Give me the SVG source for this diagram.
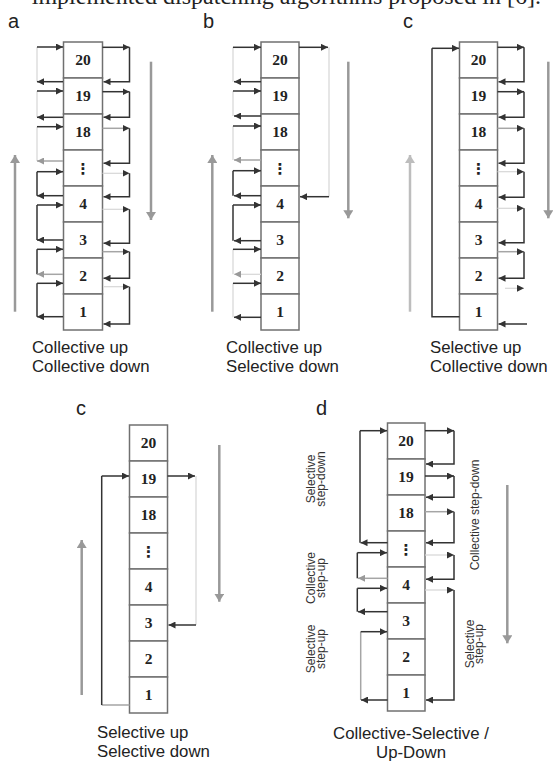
<svg xmlns="http://www.w3.org/2000/svg" width="554" height="765" viewBox="0 0 554 765">
  <defs>
    <marker id="ahk" viewBox="0 0 8 8" refX="8" refY="4" markerWidth="7" markerHeight="7" orient="auto" markerUnits="userSpaceOnUse">
      <path d="M0,0 L8,4 L0,8 z" fill="#333"/>
    </marker>
    <marker id="ahg" viewBox="0 0 8 8" refX="8" refY="4" markerWidth="7" markerHeight="7" orient="auto" markerUnits="userSpaceOnUse">
      <path d="M0,0 L8,4 L0,8 z" fill="#999"/>
    </marker>
    <marker id="big" viewBox="0 0 8 10" refX="8" refY="5" markerWidth="8" markerHeight="10" orient="auto" markerUnits="userSpaceOnUse">
      <path d="M0,0 L8,5 L0,10 z" fill="#999"/>
    </marker>
    <marker id="bigl" viewBox="0 0 8 10" refX="8" refY="5" markerWidth="8" markerHeight="10" orient="auto" markerUnits="userSpaceOnUse">
      <path d="M0,0 L8,5 L0,10 z" fill="#bdbdbd"/>
    </marker>
  </defs>
  <style>
    .cell { fill: #fff; stroke: #707070; stroke-width: 1.5; }
    .num { font-family: "Liberation Serif", "Times New Roman", serif; font-weight: bold; font-size: 15.5px; fill: #222; text-anchor: middle; }
    .dots { font-family: "DejaVu Sans", sans-serif; font-weight: bold; font-size: 15px; fill: #222; text-anchor: middle; }
    .cap { font-family: "Liberation Sans", Arial, sans-serif; font-size: 16.8px; fill: #222; }
    .tag { font-family: "Liberation Sans", Arial, sans-serif; font-size: 20px; fill: #222; }
    .rot { font-family: "Liberation Sans", Arial, sans-serif; font-size: 12px; fill: #333; text-anchor: middle; }
    .top { font-family: "Liberation Serif", "Times New Roman", serif; font-size: 24px; fill: #222; text-anchor: end; }
    .k { stroke: #333; stroke-width: 1.5; fill: none; }
    .g { stroke: #a5a5a5; stroke-width: 1.5; fill: none; }
    .f { stroke: #d6d6d6; stroke-width: 1.2; fill: none; }
    .ak { marker-end: url(#ahk); }
    .ag { marker-end: url(#ahg); }
    .trend { stroke: #999; stroke-width: 2.5; fill: none; marker-end: url(#big); }
    .trendl { stroke: #bdbdbd; stroke-width: 2.5; fill: none; marker-end: url(#bigl); }
  </style>

  <rect width="554" height="765" fill="#fff"/>

  <!-- running text of the page, cut by the top edge -->
  <text class="top" x="541" y="4">implemented dispatching algorithms proposed in [6].</text>

  <!-- panel tags -->
  <text class="tag" x="8" y="28">a</text>
  <text class="tag" x="203" y="28">b</text>
  <text class="tag" x="403" y="28">c</text>
  <text class="tag" x="76" y="415">c</text>
  <text class="tag" x="316" y="415">d</text>

  <!-- ===== panel a ===== -->
  <g id="panel-a">
    <g id="a-f20"><rect class="cell" x="63.5" y="42" width="39" height="36"/><text class="num" x="83" y="65">20</text></g>
    <g id="a-f19"><rect class="cell" x="63.5" y="78" width="39" height="36"/><text class="num" x="83" y="101">19</text></g>
    <g id="a-f18"><rect class="cell" x="63.5" y="114" width="39" height="36"/><text class="num" x="83" y="137">18</text></g>
    <g id="a-fdots"><rect class="cell" x="63.5" y="150" width="39" height="36"/><text class="dots" x="83" y="174">⋮</text></g>
    <g id="a-f4"><rect class="cell" x="63.5" y="186" width="39" height="36"/><text class="num" x="83" y="209">4</text></g>
    <g id="a-f3"><rect class="cell" x="63.5" y="222" width="39" height="36"/><text class="num" x="83" y="245">3</text></g>
    <g id="a-f2"><rect class="cell" x="63.5" y="258" width="39" height="36"/><text class="num" x="83" y="281">2</text></g>
    <g id="a-f1"><rect class="cell" x="63.5" y="294" width="39" height="36"/><text class="num" x="83" y="317">1</text></g>
    <text class="cap" x="32" y="353">Collective up</text>
    <text class="cap" x="32" y="372">Collective down</text>
  </g>

  <!-- ===== panel b ===== -->
  <g id="panel-b">
    <g id="b-f20"><rect class="cell" x="261" y="42" width="38" height="36"/><text class="num" x="280" y="65">20</text></g>
    <g id="b-f19"><rect class="cell" x="261" y="78" width="38" height="36"/><text class="num" x="280" y="101">19</text></g>
    <g id="b-f18"><rect class="cell" x="261" y="114" width="38" height="36"/><text class="num" x="280" y="137">18</text></g>
    <g id="b-fdots"><rect class="cell" x="261" y="150" width="38" height="36"/><text class="dots" x="280" y="174">⋮</text></g>
    <g id="b-f4"><rect class="cell" x="261" y="186" width="38" height="36"/><text class="num" x="280" y="209">4</text></g>
    <g id="b-f3"><rect class="cell" x="261" y="222" width="38" height="36"/><text class="num" x="280" y="245">3</text></g>
    <g id="b-f2"><rect class="cell" x="261" y="258" width="38" height="36"/><text class="num" x="280" y="281">2</text></g>
    <g id="b-f1"><rect class="cell" x="261" y="294" width="38" height="36"/><text class="num" x="280" y="317">1</text></g>
    <text class="cap" x="226" y="353">Collective up</text>
    <text class="cap" x="226" y="372">Selective down</text>
  </g>

  <!-- ===== panel c (top) ===== -->
  <g id="panel-c">
    <g id="c-f20"><rect class="cell" x="459.5" y="42" width="38" height="36"/><text class="num" x="478.5" y="65">20</text></g>
    <g id="c-f19"><rect class="cell" x="459.5" y="78" width="38" height="36"/><text class="num" x="478.5" y="101">19</text></g>
    <g id="c-f18"><rect class="cell" x="459.5" y="114" width="38" height="36"/><text class="num" x="478.5" y="137">18</text></g>
    <g id="c-fdots"><rect class="cell" x="459.5" y="150" width="38" height="36"/><text class="dots" x="478.5" y="174">⋮</text></g>
    <g id="c-f4"><rect class="cell" x="459.5" y="186" width="38" height="36"/><text class="num" x="478.5" y="209">4</text></g>
    <g id="c-f3"><rect class="cell" x="459.5" y="222" width="38" height="36"/><text class="num" x="478.5" y="245">3</text></g>
    <g id="c-f2"><rect class="cell" x="459.5" y="258" width="38" height="36"/><text class="num" x="478.5" y="281">2</text></g>
    <g id="c-f1"><rect class="cell" x="459.5" y="294" width="38" height="36"/><text class="num" x="478.5" y="317">1</text></g>
    <text class="cap" x="430" y="353">Selective up</text>
    <text class="cap" x="430" y="372">Collective down</text>
  </g>

  <!-- ===== panel c (bottom) ===== -->
  <g id="panel-c2">
    <g id="c2-f20"><rect class="cell" x="129.5" y="425" width="38" height="36"/><text class="num" x="148.5" y="448">20</text></g>
    <g id="c2-f19"><rect class="cell" x="129.5" y="461" width="38" height="36"/><text class="num" x="148.5" y="484">19</text></g>
    <g id="c2-f18"><rect class="cell" x="129.5" y="497" width="38" height="36"/><text class="num" x="148.5" y="520">18</text></g>
    <g id="c2-fdots"><rect class="cell" x="129.5" y="533" width="38" height="36"/><text class="dots" x="148.5" y="557">⋮</text></g>
    <g id="c2-f4"><rect class="cell" x="129.5" y="569" width="38" height="36"/><text class="num" x="148.5" y="592">4</text></g>
    <g id="c2-f3"><rect class="cell" x="129.5" y="605" width="38" height="36"/><text class="num" x="148.5" y="628">3</text></g>
    <g id="c2-f2"><rect class="cell" x="129.5" y="641" width="38" height="36"/><text class="num" x="148.5" y="664">2</text></g>
    <g id="c2-f1"><rect class="cell" x="129.5" y="677" width="38" height="36"/><text class="num" x="148.5" y="700">1</text></g>
    <text class="cap" x="97" y="738">Selective up</text>
    <text class="cap" x="97" y="757">Selective down</text>
  </g>

  <!-- ===== panel d ===== -->
  <g id="panel-d">
    <g id="d-f20"><rect class="cell" x="387.5" y="423" width="37.5" height="36"/><text class="num" x="406" y="446">20</text></g>
    <g id="d-f19"><rect class="cell" x="387.5" y="459" width="37.5" height="36"/><text class="num" x="406" y="482">19</text></g>
    <g id="d-f18"><rect class="cell" x="387.5" y="495" width="37.5" height="36"/><text class="num" x="406" y="518">18</text></g>
    <g id="d-fdots"><rect class="cell" x="387.5" y="531" width="37.5" height="36"/><text class="dots" x="406" y="555">⋮</text></g>
    <g id="d-f4"><rect class="cell" x="387.5" y="567" width="37.5" height="36"/><text class="num" x="406" y="590">4</text></g>
    <g id="d-f3"><rect class="cell" x="387.5" y="603" width="37.5" height="36"/><text class="num" x="406" y="626">3</text></g>
    <g id="d-f2"><rect class="cell" x="387.5" y="639" width="37.5" height="36"/><text class="num" x="406" y="662">2</text></g>
    <g id="d-f1"><rect class="cell" x="387.5" y="675" width="37.5" height="36"/><text class="num" x="406" y="698">1</text></g>
    <text class="cap" x="411" y="739" text-anchor="middle">Collective-Selective /</text>
    <text class="cap" x="411" y="758" text-anchor="middle">Up-Down</text>
    <!-- side notes, set vertically -->
    <g transform="translate(316,479) rotate(-90)">
      <text class="rot" x="0" y="-1">Selective</text>
      <text class="rot" x="0" y="8.5">step-down</text>
    </g>
    <g transform="translate(316,578) rotate(-90)">
      <text class="rot" x="0" y="-1">Collective</text>
      <text class="rot" x="0" y="8.5">step-up</text>
    </g>
    <g transform="translate(316,649) rotate(-90)">
      <text class="rot" x="0" y="-1">Selective</text>
      <text class="rot" x="0" y="8.5">step-up</text>
    </g>
    <g transform="translate(479,515) rotate(-90)">
      <text class="rot" x="0" y="0">Collective step-down</text>
    </g>
    <g transform="translate(474,644) rotate(-90)">
      <text class="rot" x="0" y="0">Selective</text>
      <text class="rot" x="0" y="8.5">step-up</text>
    </g>
  </g>

  <!-- ===== connectors ===== -->
  <g id="connectors">
    <!-- overall travel direction -->
    <path class="trend" d="M15,311.7V155"/>
    <path class="trend" d="M151,61.7V220"/>
    <path class="trend" d="M212.3,311.7V155"/>
    <path class="trend" d="M348.3,61.7V218.3"/>
    <path class="trendl" d="M410,311.7V155"/>
    <path class="trend" d="M548.3,61.7V218.3"/>
    <path class="trend" d="M81.7,695V540"/>
    <path class="trend" d="M219.3,445V601.7"/>
    <path class="trend" d="M507.3,485V643.3"/>

    <!-- panel a, left: collective up -->
    <path class="f" d="M37,47V81.7M37,91V117.3M37,126.7V161"/>
    <path class="k" d="M37,171.7V195.7M37,205V240M37,249.3V274.3M37,283.3V316.7"/>
    <path class="k ak" d="M37,47H63"/>
    <path class="k ak" d="M63,81.7H37"/>
    <path class="k ak" d="M37,91H63"/>
    <path class="k ak" d="M63,117.3H37"/>
    <path class="k ak" d="M37,126.7H63"/>
    <path class="g ag" d="M63,161H37"/>
    <path class="k ak" d="M37,171.7H63"/>
    <path class="k ak" d="M63,195.7H37"/>
    <path class="k ak" d="M37,205H63"/>
    <path class="k ak" d="M63,240H37"/>
    <path class="k ak" d="M37,249.3H63"/>
    <path class="g ag" d="M63,274.3H37"/>
    <path class="k ak" d="M37,283.3H63"/>
    <path class="k ak" d="M63,316.7H37"/>
    <!-- panel a, right: collective down -->
    <path class="k ak" d="M102.5,47.3H129.5"/>
    <path class="k ak" d="M129.5,47.3V81.7H103.5"/>
    <path class="k ak" d="M102.5,91.7H129.5"/>
    <path class="k ak" d="M129.5,91.7V117.3H103.5"/>
    <path class="g ak" d="M102.5,128.3H129.5"/>
    <path class="k ak" d="M129.5,128.3V163.3H103.5"/>
    <path class="f ak" d="M102.5,173.3H129.5"/>
    <path class="k ak" d="M129.5,173.3V196.7H103.5"/>
    <path class="f ak" d="M102.5,209.3H129.5"/>
    <path class="k ak" d="M129.5,209.3V243.3H103.5"/>
    <path class="g ak" d="M102.5,251.7H129.5"/>
    <path class="k ak" d="M129.5,251.7V278.3H103.5"/>
    <path class="f ak" d="M104,286.7H129.5"/>
    <path class="k ak" d="M129.5,286.7V324H103.5"/>

    <!-- panel b, left: collective up -->
    <path class="f" d="M233,47.3V81.7M233,91V116M233,126V160M233,249.3V274.3M233,283.3V317.3"/>
    <path class="k" d="M233,170.7V195.7M233,205V240.7"/>
    <path class="k ak" d="M233,47.3H261"/>
    <path class="k ak" d="M261,81.7H234"/>
    <path class="k ak" d="M233,91H261"/>
    <path class="k ak" d="M261,116H234"/>
    <path class="k ak" d="M233,126H261"/>
    <path class="g ag" d="M261,160H234"/>
    <path class="k ak" d="M233,170.7H261"/>
    <path class="k ak" d="M261,195.7H234"/>
    <path class="k ak" d="M233,205H261"/>
    <path class="k ak" d="M261,240.7H234"/>
    <path class="k ak" d="M233,249.3H261"/>
    <path class="f ag" d="M261,274.3H234"/>
    <path class="k ak" d="M233,283.3H261"/>
    <path class="k ak" d="M261,317.3H234"/>
    <!-- panel b, right: selective down from 20 to 4 -->
    <path class="k ak" d="M299,47.3H328"/>
    <path class="f" d="M329,47.3V196.7"/>
    <path class="k ak" d="M329,196.7H300"/>

    <!-- panel c, left: selective up from 1 to 20 -->
    <path class="k" d="M459.5,316.7H432V48.3"/>
    <path class="k ak" d="M432,48.3H459"/>
    <!-- panel c, right: collective down -->
    <path class="k ak" d="M497.5,47.3H524"/>
    <path class="k ak" d="M524,47.3V81.7H498.5"/>
    <path class="k ak" d="M497.5,91.7H524"/>
    <path class="k ak" d="M524,91.7V117.3H498.5"/>
    <path class="g ak" d="M497.5,128.3H524"/>
    <path class="k ak" d="M524,128.3V163.3H498.5"/>
    <path class="f ak" d="M497.5,171.7H524"/>
    <path class="k ak" d="M524,171.7V197.3H498.5"/>
    <path class="f ak" d="M497.5,208.3H524"/>
    <path class="k ak" d="M524,208.3V242.7H498.5"/>
    <path class="g ak" d="M497.5,251.7H524"/>
    <path class="k ak" d="M524,251.7V278.3H498.5"/>
    <path class="f ak" d="M505,288.3H524"/>
    <path class="k ak" d="M527,324H498.5"/>

    <!-- bottom panel c: selective up 1 to 19, selective down 19 to 3 -->
    <path class="g" d="M129.5,705H101.7"/>
    <path class="k" d="M101.7,705V476"/>
    <path class="k ak" d="M101.7,476H129"/>
    <path class="k ak" d="M167.5,476H195"/>
    <path class="f" d="M196,476V625"/>
    <path class="k ak" d="M196,625H168.5"/>

    <!-- panel d, left -->
    <path class="k" d="M360,430.7V542.7"/>
    <path class="k ak" d="M360,430.7H387"/>
    <path class="k ak" d="M387.5,542.7H360.5"/>
    <path class="k" d="M357.3,552.7V578.3"/>
    <path class="k ak" d="M357.3,552.7H387"/>
    <path class="g ag" d="M387.5,578.3H358"/>
    <path class="k" d="M357.3,588.3V611.7"/>
    <path class="k ak" d="M357.3,588.3H387"/>
    <path class="k ak" d="M387.5,611.7H358"/>
    <path class="g" d="M360.7,631.7V700"/>
    <path class="k ak" d="M360.7,631.7H387"/>
    <path class="k ak" d="M387.5,700H361"/>
    <!-- panel d, right -->
    <path class="k ak" d="M425,430.7H454"/>
    <path class="k ak" d="M454,430.7V464H426"/>
    <path class="k ak" d="M425,476H454"/>
    <path class="k ak" d="M454,476V497.3H426"/>
    <path class="g ak" d="M425,511.7H454"/>
    <path class="k ak" d="M454,511.7V542.7H426"/>
    <path class="f ak" d="M425,555H454"/>
    <path class="k ak" d="M454,555V579.3H426"/>
    <path class="f ak" d="M425,590H454"/>
    <path class="k ak" d="M454,590V700H426"/>
  </g>
</svg>
